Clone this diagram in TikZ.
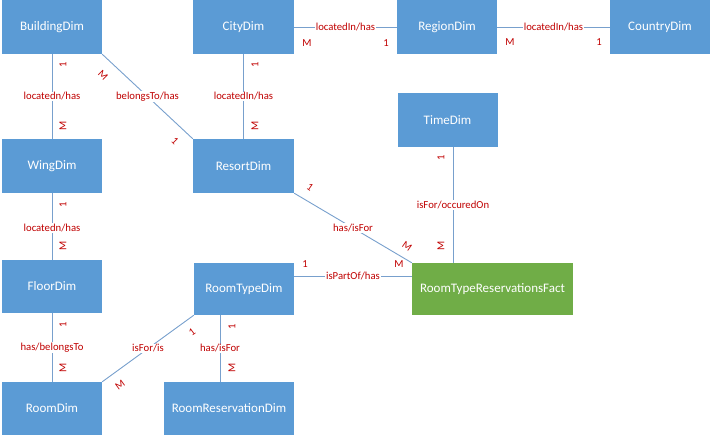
\documentclass[tikz,border=0pt]{standalone}
\usepackage{fontspec}
\setmainfont{Carlito}
\begin{document}
\begin{tikzpicture}[x=1pt,y=-1pt,
  dim/.style={rectangle, fill=dimblue, text=white, minimum width=100pt, minimum height=54pt, inner sep=0pt, font=\fontsize{13}{15}\selectfont},
  fact/.style={dim, fill=factgreen, minimum width=161pt, minimum height=52pt},
  link/.style={draw=linkblue, line width=0.9pt},
  rel/.style={fill=white, text=relred, inner sep=1pt, font=\fontsize{10.7}{12}\selectfont},
  card/.style={text=relred, inner sep=0pt, font=\fontsize{10.7}{12}\selectfont},
  vcard/.style={card, rotate=90}
]
\definecolor{dimblue}{RGB}{91,155,213}
\definecolor{factgreen}{RGB}{112,173,71}
\definecolor{linkblue}{RGB}{120,160,205}
\definecolor{relred}{RGB}{192,0,0}
\useasboundingbox (0,0) rectangle (712,436);

% dimension and fact tables
\node[dim] (building) at (52,27) {BuildingDim};
\node[dim, minimum width=101pt] (city) at (243.5,27) {CityDim};
\node[dim] (region) at (447,27) {RegionDim};
\node[dim] (country) at (660,27) {CountryDim};
\node[dim] (wing) at (52,166) {WingDim};
\node[dim, minimum width=101pt] (resort) at (243.5,166) {ResortDim};
\node[dim] (time) at (447.5,120) {TimeDim};
\node[fact] (fact) at (492.5,289) {RoomTypeReservationsFact};
\node[dim, minimum height=53pt] (floor) at (52,286.5) {FloorDim};
\node[dim, minimum height=52pt] (roomtype) at (244,289) {RoomTypeDim};
\node[dim, minimum height=53pt] (room) at (52,408.5) {RoomDim};
\node[dim, minimum height=53pt, minimum width=130pt] (roomres) at (229,408.5) {RoomReservationDim};

% relationships
\draw[link] (building.south) -- node[rel] (r1) {locatedn/has} (wing.north);
\draw[link] (building.south east) -- node[rel, pos=0.5] (r2) {belongsTo/has} (resort.north west);
\draw[link] (city.south) -- node[rel] (r3) {locatedIn/has} (resort.north);
\draw[link] (city.east) -- node[rel] (r4) {locatedIn/has} (region.west);
\draw[link] (region.east) -- node[rel] (r5) {locatedIn/has} (country.west);
\draw[link] (wing.south) -- node[rel, pos=0.52] (r6) {locatedn/has} (floor.north);
\draw[link] (floor.south) -- node[rel, pos=0.5] (r7) {has/belongsTo} (room.north);
\draw[link] (resort.south east) -- node[rel, pos=0.5] (r8) {has/isFor} (fact.north west);
\draw[link] (time.south) ++(5.5,0) coordinate (tfoot) -- node[rel, pos=0.5] (r9) {isFor/occuredOn} (tfoot |- fact.north);
\draw[link] (roomtype.east) ++(0,-13) coordinate (rtside) -- node[rel, pos=0.5] (r10) {isPartOf/has} (rtside -| fact.west);
\draw[link] (roomtype.south) ++(-24,0) coordinate (rtfoot) -- node[rel, pos=0.5] (r11) {has/isFor} (rtfoot |- roomres.north);
\draw[link] (room.north east) -- node[rel, pos=0.5] (r12) {isFor/is} (roomtype.south west);

% cardinalities
\node[vcard] (c1a) at (63,65) {1};
\node[vcard] (c1b) at (63,126) {M};
\node[card, rotate=-45] (c2a) at (103,75) {M};
\node[card, rotate=-45] (c2b) at (175,141) {1};
\node[vcard] (c3a) at (255,65) {1};
\node[vcard] (c3b) at (255,126) {M};
\node[card] (c4a) at (307,43) {M};
\node[card] (c4b) at (386,43) {1};
\node[card] (c5a) at (510,42) {M};
\node[card] (c5b) at (599,42) {1};
\node[vcard] (c6a) at (63,205) {1};
\node[vcard] (c6b) at (63,246) {M};
\node[vcard] (c7a) at (63,325) {1};
\node[vcard] (c7b) at (63,368) {M};
\node[card, rotate=-35] (c8a) at (310,187) {1};
\node[card, rotate=-35] (c8b) at (407,246) {M};
\node[vcard] (c9a) at (441,158) {1};
\node[vcard] (c9b) at (441,246) {M};
\node[card] (c10a) at (305,264) {1};
\node[card] (c10b) at (399,264) {M};
\node[vcard] (c11a) at (232,327) {1};
\node[vcard] (c11b) at (232,368) {M};
\node[card, rotate=36] (c12a) at (192,332) {1};
\node[card, rotate=36] (c12b) at (120,385) {M};
\end{tikzpicture}
\end{document}
